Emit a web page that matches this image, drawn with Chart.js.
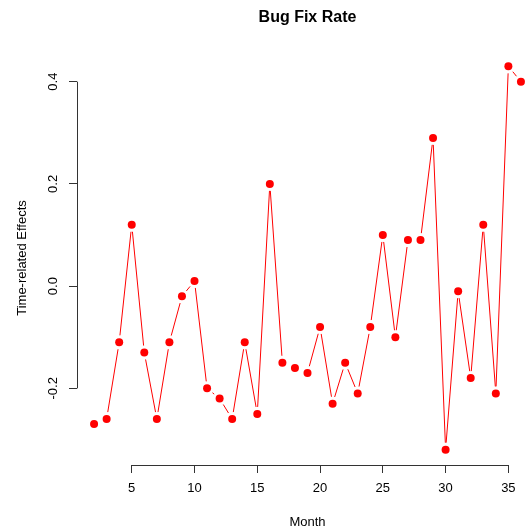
<!DOCTYPE html>
<html>
<head>
<meta charset="utf-8">
<title>Bug Fix Rate</title>
<script src="https://cdn.jsdelivr.net/npm/chart.js@4/dist/chart.umd.min.js"></script>
<style>
  html, body { margin: 0; padding: 0; background: #fff; overflow: hidden; }
  #wrap { width: 525px; height: 531px; overflow: hidden; }
</style>
</head>
<body>
<div id="wrap"><canvas id="chart" width="545" height="531"></canvas></div>
<script>
// monthly time-related effects
const months = [2, 3, 4, 5, 6, 7, 8, 9, 10, 11, 12, 13, 14, 15, 16, 17, 18, 19,
                20, 21, 22, 23, 24, 25, 26, 27, 28, 29, 30, 31, 32, 33, 34, 35, 36];
const effects = [-0.27, -0.26, -0.11, 0.12, -0.13, -0.26, -0.11, -0.02, 0.01, -0.20,
                 -0.22, -0.26, -0.11, -0.25, 0.20, -0.15, -0.16, -0.17, -0.08, -0.23,
                 -0.15, -0.21, -0.08, 0.10, -0.10, 0.09, 0.09, 0.29, -0.32, -0.01,
                 -0.18, 0.12, -0.21, 0.43, 0.40];
const xTicks = [5, 10, 15, 20, 25, 30, 35];
const yTicks = [-0.2, 0.0, 0.2, 0.4];

Chart.defaults.font.family = '"Liberation Sans", Arial, Helvetica, sans-serif';
Chart.defaults.font.size = 13;
Chart.defaults.color = '#000';

// base-graphics style range: data range padded by 4% each side
function padRange(vals) {
  const lo = Math.min(...vals), hi = Math.max(...vals);
  const d = (hi - lo) * 0.04;
  return [lo - d, hi + d];
}
const [xMin, xMax] = padRange(months);
const [yMin, yMax] = padRange(effects);

// "b" type lines: segments stop short of each point
const gappedLines = {
  id: 'gappedLines',
  beforeDatasetsDraw(chart) {
    const pts = chart.getDatasetMeta(0).data;
    const gap = 7;
    const ctx = chart.ctx;
    ctx.save();
    ctx.strokeStyle = '#ff0000';
    ctx.lineWidth = 1;
    for (let i = 1; i < pts.length; i++) {
      const a = pts[i - 1], b = pts[i];
      const dx = b.x - a.x, dy = b.y - a.y;
      const len = Math.hypot(dx, dy);
      if (len <= 2 * gap) continue;
      const ux = dx / len, uy = dy / len;
      ctx.beginPath();
      ctx.moveTo(a.x + ux * gap, a.y + uy * gap);
      ctx.lineTo(b.x - ux * gap, b.y - uy * gap);
      ctx.stroke();
    }
    ctx.restore();
  }
};

// axis lines only across the tick span, plus the main title
const axesAndTitle = {
  id: 'axesAndTitle',
  afterDraw(chart) {
    const {ctx, chartArea, scales: {x, y}} = chart;
    ctx.save();
    ctx.strokeStyle = '#333';
    ctx.lineWidth = 1;
    ctx.beginPath();
    const by = Math.round(chartArea.bottom) + 0.5;
    ctx.moveTo(x.getPixelForValue(xTicks[0]), by);
    ctx.lineTo(x.getPixelForValue(xTicks[xTicks.length - 1]), by);
    const lx = Math.round(chartArea.left) + 0.5;
    ctx.moveTo(lx, y.getPixelForValue(yTicks[0]));
    ctx.lineTo(lx, y.getPixelForValue(yTicks[yTicks.length - 1]));
    ctx.stroke();

    ctx.fillStyle = '#000';
    ctx.font = 'bold 16px "Liberation Sans", Arial, Helvetica, sans-serif';
    ctx.textAlign = 'center';
    ctx.textBaseline = 'middle';
    ctx.fillText('Bug Fix Rate', (chartArea.left + chartArea.right) / 2, 18);
    ctx.restore();
  }
};

new Chart(document.getElementById('chart'), {
  type: 'scatter',
  data: {
    datasets: [{
      data: months.map((m, i) => ({x: m, y: effects[i]})),
      showLine: false,
      pointRadius: 4,
      pointHoverRadius: 4,
      pointBorderWidth: 0,
      pointBackgroundColor: '#ff0000'
    }]
  },
  options: {
    responsive: false,
    animation: false,
    layout: {padding: {top: 51, right: 7, bottom: 0, left: 0}},
    plugins: {legend: {display: false}, tooltip: {enabled: false}, title: {display: false}},
    scales: {
      x: {
        type: 'linear',
        min: xMin,
        max: xMax,
        afterBuildTicks: axis => { axis.ticks = xTicks.map(v => ({value: v})); },
        afterFit: s => { s.height = 66; },
        border: {display: false},
        grid: {drawOnChartArea: false, drawTicks: true, tickLength: 8, color: '#333'},
        ticks: {autoSkip: false, maxRotation: 0, padding: 8, callback: v => String(v)},
        title: {display: true, text: 'Month', padding: {top: 0, bottom: 1}}
      },
      y: {
        type: 'linear',
        min: yMin,
        max: yMax,
        afterBuildTicks: axis => { axis.ticks = yTicks.map(v => ({value: v})); },
        afterFit: s => { s.width = 77; },
        border: {display: false},
        grid: {drawOnChartArea: false, drawTicks: true, tickLength: 8, color: '#333'},
        ticks: {minRotation: 90, maxRotation: 90, crossAlign: 'center', padding: 4,
                callback: v => v.toFixed(1)},
        title: {display: true, text: 'Time-related Effects', padding: {top: 15, bottom: 0}}
      }
    }
  },
  plugins: [gappedLines, axesAndTitle]
});
</script>
</body>
</html>
